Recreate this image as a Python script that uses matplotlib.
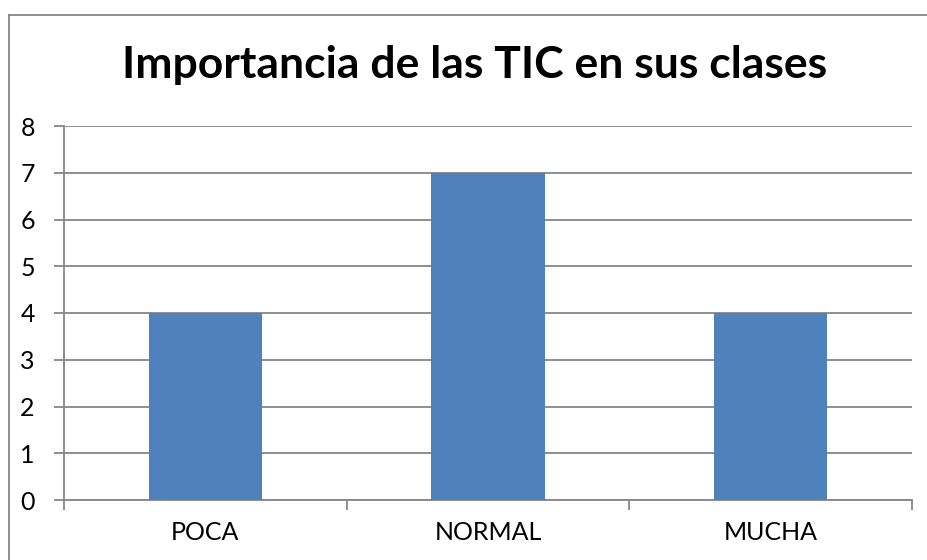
import matplotlib
matplotlib.use("Agg")
import matplotlib.pyplot as plt
from matplotlib.lines import Line2D
from matplotlib.ticker import FixedLocator, NullFormatter

categories = ["POCA", "NORMAL", "MUCHA"]
values = [4, 7, 4]
title = "Importancia de las TIC en sus clases"
yticks = [0, 1, 2, 3, 4, 5, 6, 7, 8]

plt.rcParams['font.family'] = ['Lato', 'DejaVu Sans']

W, H = 928, 560
fig = plt.figure(figsize=(W/100, H/100), dpi=100)
ax = fig.add_axes([64/W, 1-500/H, (912-64)/W, (500-126)/H])

x = list(range(len(categories)))
ax.bar(x, values, width=0.4, color="#4F81BD", zorder=3)
ax.set_xlim(-0.5, len(categories)-0.5)
ax.set_ylim(0, 8)
ax.set_yticks(yticks)
ax.set_yticklabels([str(v) for v in yticks], fontsize=18)
ax.yaxis.grid(True, color="#868686", linewidth=1.3, zorder=0)

ax.set_xticks(x)
ax.set_xticklabels(categories, fontsize=18)
ax.tick_params(axis='x', which='major', length=0, pad=15)
ax.xaxis.set_minor_locator(FixedLocator([i-0.5 for i in range(len(categories)+1)]))
ax.xaxis.set_minor_formatter(NullFormatter())
ax.tick_params(axis='x', which='minor', length=7, width=1.3, color="#868686")
ax.tick_params(axis='y', length=7, width=1.3, color="#868686", pad=14)

for s in ["top", "right"]:
    ax.spines[s].set_visible(False)
for s in ["left", "bottom"]:
    ax.spines[s].set_color("#868686")
    ax.spines[s].set_linewidth(1.3)

fig.text(475/W, 1-65/H, title, ha="center", va="center", fontsize=32, fontweight="bold")

fig.add_artist(Line2D([9.5/W, 9.5/W], [0, 1-14.5/H], color="#868686", linewidth=1.3, transform=fig.transFigure))
fig.add_artist(Line2D([9.5/W, 1], [1-14.5/H, 1-14.5/H], color="#868686", linewidth=1.3, transform=fig.transFigure))

fig.savefig("out.png", dpi=100, facecolor="white")
